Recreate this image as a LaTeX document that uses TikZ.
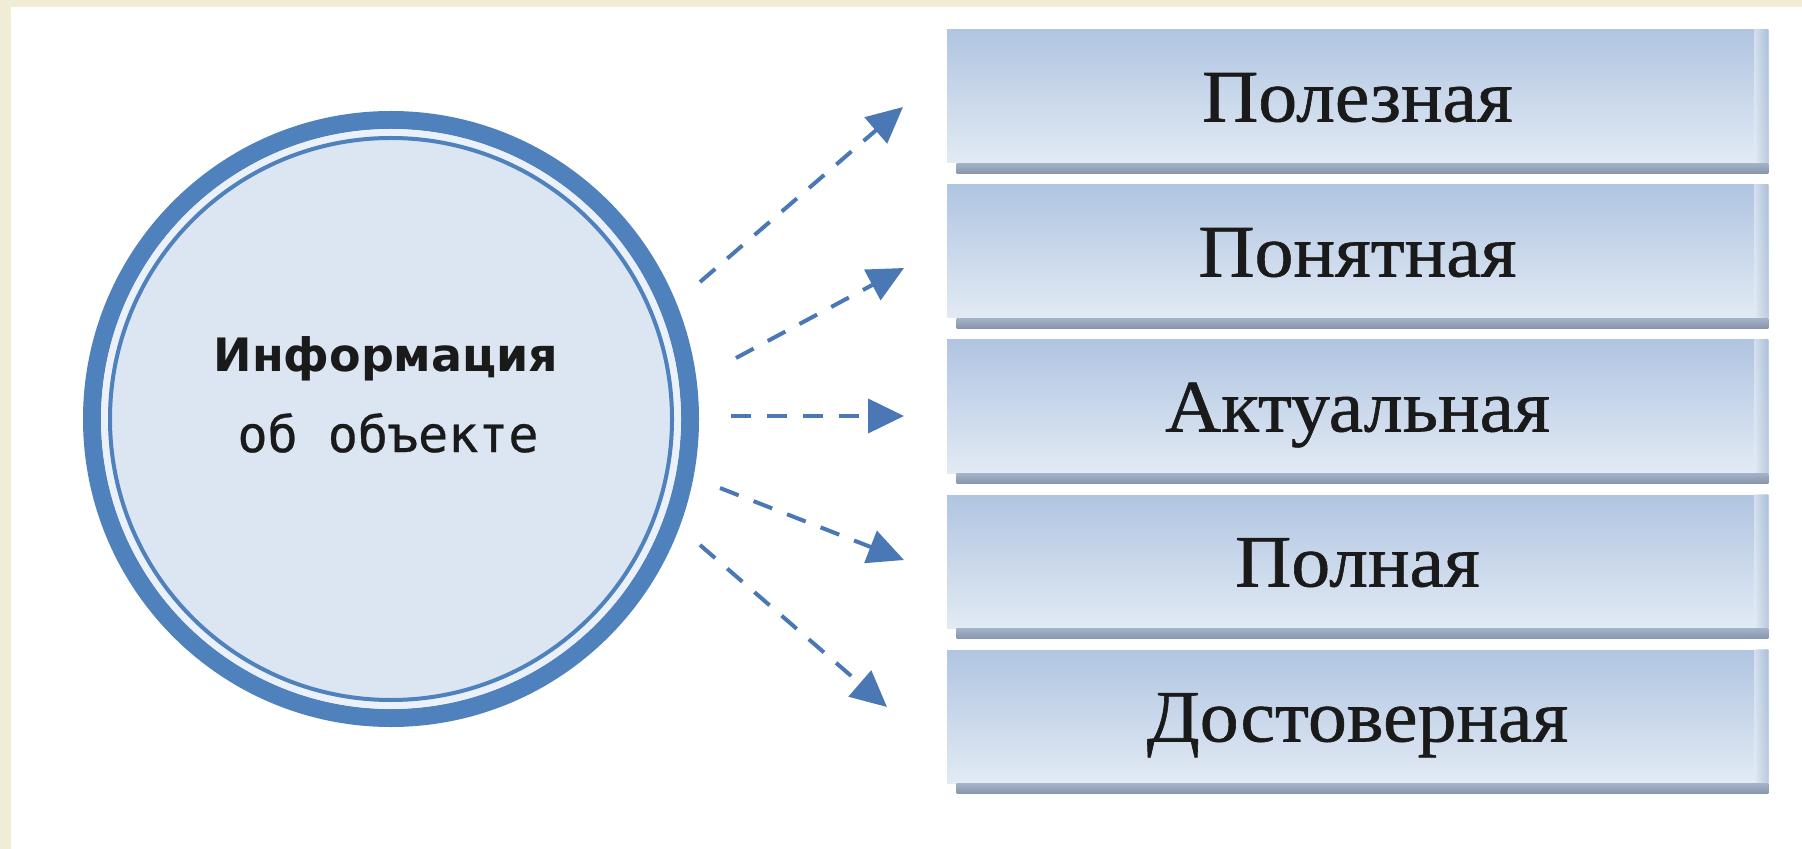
\documentclass[tikz,border=0pt]{standalone}
\usepackage{fontspec}
\usetikzlibrary{arrows.meta,calc}
\newfontfamily\boxfont[FakeStretch=1.05,FakeBold=0.8]{Liberation Serif}
\newfontfamily\infofont{DejaVu Sans}
\newfontfamily\objfont[FakeBold=0.6]{DejaVu Sans Mono}
\definecolor{ringblue}{HTML}{4F81BD}
\definecolor{circfill}{HTML}{DCE6F2}
\definecolor{gapcol}{HTML}{EAF1FA}
\definecolor{arrowblue}{HTML}{4A78B4}
\definecolor{beige}{HTML}{F1ECD6}
\definecolor{boxtop}{HTML}{B0C5E1}
\definecolor{boxbot}{HTML}{E2EAF4}
\definecolor{bandtop}{HTML}{A3B2C6}
\definecolor{bandbot}{HTML}{8796AD}
\definecolor{edgecol}{HTML}{A9BCD4}
\definecolor{txt}{HTML}{1A1A1A}
\begin{document}
\begin{tikzpicture}[x=0.5pt,y=-0.5pt,
  infobox/.style={rectangle, minimum width=410.5pt, minimum height=66.5pt, inner sep=0pt,
    top color=boxtop, bottom color=boxbot, draw=none,
    font=\boxfont\fontsize{37pt}{40pt}\selectfont, text=txt, text height=25pt, text depth=0pt},
  bigcirc/.style={circle, minimum size=299pt, inner sep=0pt, draw=ringblue, line width=9pt, fill=circfill},
  conn/.style={draw=arrowblue, line width=2pt, dash pattern=on 10pt off 8pt,
    -{Triangle[length=18pt,width=17pt]}},
  bandstyle/.style={top color=bandtop, bottom color=bandbot},
  edgestyle/.style={left color=boxbot, right color=edgecol}
]
\useasboundingbox (0,0) rectangle (1802,849);
\fill[white] (0,0) rectangle (1802,849);
\fill[beige] (0,0) rectangle (1802,7);
\fill[beige] (0,0) rectangle (11,849);

% circle
\node[bigcirc] (circ) at (391,419) {};
\draw[gapcol, line width=3.5pt] (circ.center) circle[radius=143.25pt];
\draw[ringblue, line width=2pt] (circ.center) circle[radius=140.5pt];
\node[anchor=base, text=txt, font=\infofont\bfseries\fontsize{23pt}{28pt}\selectfont] (l1) at (386,372) {Информация};
\node[anchor=base, text=txt, font=\objfont\fontsize{25pt}{30pt}\selectfont] (l2) at (388,452) {об объекте};

% boxes
\foreach \i/\t in {1/Полезная,2/Понятная,3/Актуальная,4/Полная,5/Достоверная}{
  \node[infobox] (b\i) at (1357.5,{96.5+155*(\i-1)}) {\t};
  \shade[edgestyle, opacity=0.7] ($(b\i.north east)+(-14,0)$) rectangle (b\i.south east);
  \shade[bandstyle] ($(b\i.south west)+(10,0)$) rectangle ($(b\i.south east)+(0,10)$);
}

% arrows
\coordinate (s1) at (700,282); \coordinate (t1) at (903,107);
\coordinate (s2) at (736,358); \coordinate (t2) at (904,268);
\coordinate (s3) at (731,416); \coordinate (t3) at (904,416);
\coordinate (s4) at (720,488); \coordinate (t4) at (904,560);
\coordinate (s5) at (700,545); \coordinate (t5) at (887,707);
\foreach \i in {1,...,5}{\draw[conn] (s\i) -- (t\i);}
\end{tikzpicture}
\end{document}
